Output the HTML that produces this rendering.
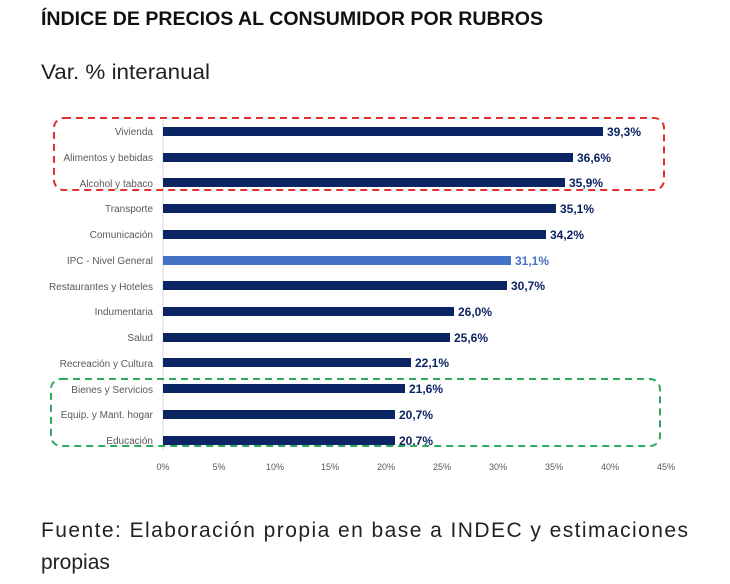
<!DOCTYPE html>
<html><head><meta charset="utf-8"><style>
body{margin:0;width:730px;height:579px;background:#fff;overflow:hidden;font-family:"Liberation Sans",sans-serif}
</style></head><body>
<svg width="730" height="579" xmlns="http://www.w3.org/2000/svg" font-family="Liberation Sans, sans-serif">
<text x="41" y="25" font-size="19" font-weight="bold" fill="#111" textLength="502" lengthAdjust="spacingAndGlyphs">ÍNDICE DE PRECIOS AL CONSUMIDOR POR RUBROS</text>
<text x="41" y="79" font-size="21" fill="#222" textLength="169" lengthAdjust="spacingAndGlyphs">Var. % interanual</text>
<line x1="163" y1="120" x2="163" y2="450" stroke="#d9d9d9" stroke-width="1"/>
<g font-size="10" fill="#595959" text-anchor="end">
<text x="153" y="135">Vivienda</text>
<text x="153" y="161">Alimentos y bebidas</text>
<text x="153" y="187">Alcohol y tabaco</text>
<text x="153" y="212">Transporte</text>
<text x="153" y="238">Comunicación</text>
<text x="153" y="264">IPC - Nivel General</text>
<text x="153" y="290">Restaurantes y Hoteles</text>
<text x="153" y="315">Indumentaria</text>
<text x="153" y="341">Salud</text>
<text x="153" y="367">Recreación y Cultura</text>
<text x="153" y="393">Bienes y Servicios</text>
<text x="153" y="418">Equip. y Mant. hogar</text>
<text x="153" y="444">Educación</text>
</g>
<g fill="#0b2463">
<rect x="163" y="127" width="440" height="9"/>
<rect x="163" y="153" width="410" height="9"/>
<rect x="163" y="178" width="402" height="9"/>
<rect x="163" y="204" width="393" height="9"/>
<rect x="163" y="230" width="383" height="9"/>
<rect x="163" y="256" width="348" height="9" fill="#4472c4"/>
<rect x="163" y="281" width="344" height="9"/>
<rect x="163" y="307" width="291" height="9"/>
<rect x="163" y="333" width="287" height="9"/>
<rect x="163" y="358" width="248" height="9"/>
<rect x="163" y="384" width="242" height="9"/>
<rect x="163" y="410" width="232" height="9"/>
<rect x="163" y="436" width="232" height="9"/>
</g>
<g font-size="12" font-weight="bold" fill="#0b2463">
<text x="607" y="136">39,3%</text>
<text x="577" y="162">36,6%</text>
<text x="569" y="187">35,9%</text>
<text x="560" y="213">35,1%</text>
<text x="550" y="239">34,2%</text>
<text x="515" y="265" fill="#4472c4">31,1%</text>
<text x="511" y="290">30,7%</text>
<text x="458" y="316">26,0%</text>
<text x="454" y="342">25,6%</text>
<text x="415" y="367">22,1%</text>
<text x="409" y="393">21,6%</text>
<text x="399" y="419">20,7%</text>
<text x="399" y="445">20,7%</text>
</g>
<g font-size="9" fill="#595959" text-anchor="middle">
<text x="163" y="470">0%</text><text x="219" y="470">5%</text><text x="275" y="470">10%</text>
<text x="330" y="470">15%</text><text x="386" y="470">20%</text><text x="442" y="470">25%</text>
<text x="498" y="470">30%</text><text x="554" y="470">35%</text><text x="610" y="470">40%</text>
<text x="666" y="470">45%</text>
</g>
<rect x="54" y="118" width="610" height="72" rx="10" fill="none" stroke="#e03030" stroke-width="2" stroke-dasharray="7,5"/>
<rect x="51" y="379" width="609" height="67" rx="10" fill="none" stroke="#2eaa5c" stroke-width="2" stroke-dasharray="7,5"/>
<text x="41" y="537" font-size="21" fill="#222" textLength="647" lengthAdjust="spacing">Fuente: Elaboración propia en base a INDEC y estimaciones</text>
<text x="41" y="569" font-size="21" fill="#222">propias</text>
</svg>
</body></html>
